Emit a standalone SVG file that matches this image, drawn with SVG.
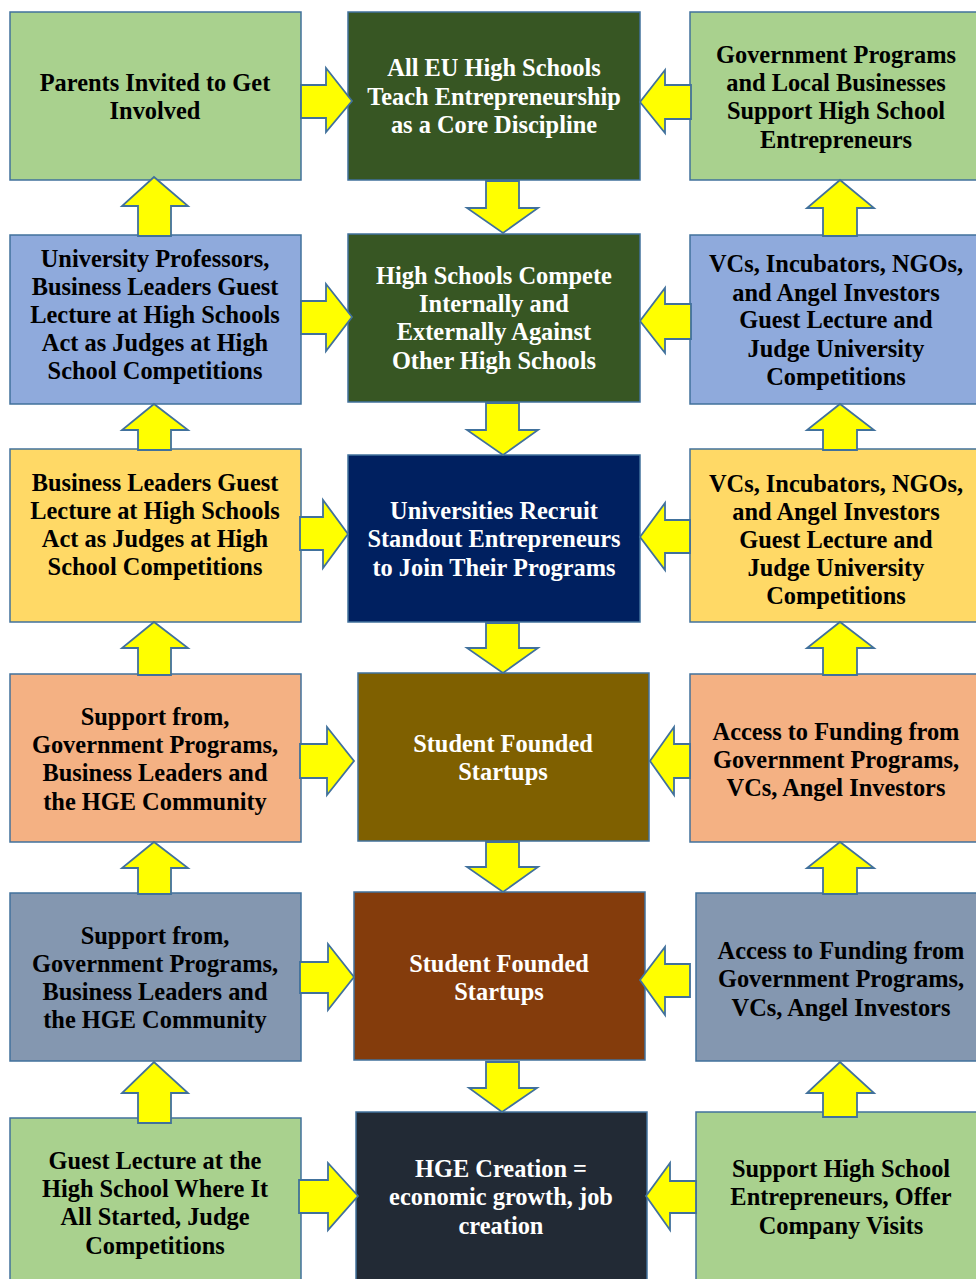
<svg xmlns="http://www.w3.org/2000/svg" width="976" height="1279" viewBox="0 0 976 1279">
<style>
.box{stroke:#41719C;stroke-width:1.5}
.t{font-family:"Liberation Serif","Times New Roman",serif;font-weight:bold;font-size:24.4px;text-anchor:middle}
.dk{fill:#000000}
.lt{fill:#FFFFFF}
.arr{fill:#FFFF00;stroke:#41719C;stroke-width:1.8;stroke-linejoin:miter}
</style>
<rect width="976" height="1279" fill="#FFFFFF"/>
<g id="nodes">
<g id="n-parents"><rect class="box" x="10" y="12" width="291" height="168" fill="#A9D18E"/>
<text class="t dk" x="155"><tspan x="155" y="91">Parents Invited to Get</tspan><tspan x="155" y="119">Involved</tspan></text></g>
<g id="n-eu"><rect class="box" x="348" y="12" width="292" height="168" fill="#375623"/>
<text class="t lt"><tspan x="494" y="76">All EU High Schools</tspan><tspan x="494" y="105">Teach Entrepreneurship</tspan><tspan x="494" y="133">as a Core Discipline</tspan></text></g>
<g id="n-gov1"><rect class="box" x="690" y="12" width="290" height="168" fill="#A9D18E"/>
<text class="t dk"><tspan x="836" y="63">Government Programs</tspan><tspan x="836" y="91">and Local Businesses</tspan><tspan x="836" y="119">Support High School</tspan><tspan x="836" y="148">Entrepreneurs</tspan></text></g>

<g id="n-prof"><rect class="box" x="10" y="235" width="291" height="169" fill="#8FAADC"/>
<text class="t dk"><tspan x="155" y="267">University Professors,</tspan><tspan x="155" y="295">Business Leaders Guest</tspan><tspan x="155" y="323">Lecture at High Schools</tspan><tspan x="155" y="351">Act as Judges at High</tspan><tspan x="155" y="379">School Competitions</tspan></text></g>
<g id="n-compete"><rect class="box" x="348" y="234" width="292" height="168" fill="#375623"/>
<text class="t lt"><tspan x="494" y="284">High Schools Compete</tspan><tspan x="494" y="312">Internally and</tspan><tspan x="494" y="340">Externally Against</tspan><tspan x="494" y="369">Other High Schools</tspan></text></g>
<g id="n-vc1"><rect class="box" x="690" y="235" width="290" height="169" fill="#8FAADC"/>
<text class="t dk"><tspan x="836" y="272">VCs, Incubators, NGOs,</tspan><tspan x="836" y="301">and Angel Investors</tspan><tspan x="836" y="328">Guest Lecture and</tspan><tspan x="836" y="357">Judge University</tspan><tspan x="836" y="385">Competitions</tspan></text></g>

<g id="n-biz"><rect class="box" x="10" y="449" width="291" height="173" fill="#FFD966"/>
<text class="t dk"><tspan x="155" y="491">Business Leaders Guest</tspan><tspan x="155" y="519">Lecture at High Schools</tspan><tspan x="155" y="547">Act as Judges at High</tspan><tspan x="155" y="575">School Competitions</tspan></text></g>
<g id="n-recruit"><rect class="box" x="348" y="455" width="292" height="167" fill="#002060"/>
<text class="t lt"><tspan x="494" y="519">Universities Recruit</tspan><tspan x="494" y="547">Standout Entrepreneurs</tspan><tspan x="494" y="576">to Join Their Programs</tspan></text></g>
<g id="n-vc2"><rect class="box" x="690" y="449" width="290" height="173" fill="#FFD966"/>
<text class="t dk"><tspan x="836" y="492">VCs, Incubators, NGOs,</tspan><tspan x="836" y="520">and Angel Investors</tspan><tspan x="836" y="548">Guest Lecture and</tspan><tspan x="836" y="576">Judge University</tspan><tspan x="836" y="604">Competitions</tspan></text></g>

<g id="n-support1"><rect class="box" x="10" y="674" width="291" height="168" fill="#F4B183"/>
<text class="t dk"><tspan x="155" y="725">Support from,</tspan><tspan x="155" y="753">Government Programs,</tspan><tspan x="155" y="781">Business Leaders and</tspan><tspan x="155" y="810">the HGE Community</tspan></text></g>
<g id="n-startups1"><rect class="box" x="358" y="673" width="291" height="168" fill="#7F6000"/>
<text class="t lt"><tspan x="503" y="752">Student Founded</tspan><tspan x="503" y="780">Startups</tspan></text></g>
<g id="n-fund1"><rect class="box" x="690" y="674" width="290" height="168" fill="#F4B183"/>
<text class="t dk"><tspan x="836" y="740">Access to Funding from</tspan><tspan x="836" y="768">Government Programs,</tspan><tspan x="836" y="796">VCs, Angel Investors</tspan></text></g>

<g id="n-support2"><rect class="box" x="10" y="893" width="291" height="168" fill="#8497B0"/>
<text class="t dk"><tspan x="155" y="944">Support from,</tspan><tspan x="155" y="972">Government Programs,</tspan><tspan x="155" y="1000">Business Leaders and</tspan><tspan x="155" y="1028">the HGE Community</tspan></text></g>
<g id="n-startups2"><rect class="box" x="354" y="892" width="291" height="168" fill="#843C0C"/>
<text class="t lt"><tspan x="499" y="972">Student Founded</tspan><tspan x="499" y="1000">Startups</tspan></text></g>
<g id="n-fund2"><rect class="box" x="696" y="893" width="284" height="168" fill="#8497B0"/>
<text class="t dk"><tspan x="841" y="959">Access to Funding from</tspan><tspan x="841" y="987">Government Programs,</tspan><tspan x="841" y="1016">VCs, Angel Investors</tspan></text></g>

<g id="n-guest"><rect class="box" x="10" y="1118" width="291" height="170" fill="#A9D18E"/>
<text class="t dk"><tspan x="155" y="1169">Guest Lecture at the</tspan><tspan x="155" y="1197">High School Where It</tspan><tspan x="155" y="1225">All Started, Judge</tspan><tspan x="155" y="1254">Competitions</tspan></text></g>
<g id="n-hge"><rect class="box" x="356" y="1112" width="291" height="176" fill="#222A35"/>
<text class="t lt"><tspan x="501" y="1177">HGE Creation =</tspan><tspan x="501" y="1205">economic growth, job</tspan><tspan x="501" y="1234">creation</tspan></text></g>
<g id="n-company"><rect class="box" x="696" y="1112" width="284" height="176" fill="#A9D18E"/>
<text class="t dk"><tspan x="841" y="1177">Support High School</tspan><tspan x="841" y="1205">Entrepreneurs, Offer</tspan><tspan x="841" y="1234">Company Visits</tspan></text></g>
</g>

<g id="connectors">
<path class="arr" d="M301,85 H326 V68 L352,101 L326,132 V118 H301 Z"/>
<path class="arr" d="M301,301 H326 V284 L352,317 L326,351 V334 H301 Z"/>
<path class="arr" d="M300,517 H323 V500 L348,534 L323,568 V550 H300 Z"/>
<path class="arr" d="M300,744 H327 V727 L354,761 L327,795 V778 H300 Z"/>
<path class="arr" d="M300,962 H328 V944 L354,977 L328,1010 V993 H300 Z"/>
<path class="arr" d="M299,1180 H328 V1163 L358,1196 L328,1230 V1213 H299 Z"/>
<path class="arr" d="M691,85 H665 V70 L640,102 L665,133 V119 H691 Z"/>
<path class="arr" d="M691,304 H665 V288 L640,321 L665,353 V339 H691 Z"/>
<path class="arr" d="M690,520 H665 V503 L640,537 L665,570 V553 H690 Z"/>
<path class="arr" d="M690,744 H674 V727 L650,761 L674,795 V778 H690 Z"/>
<path class="arr" d="M690,964 H665 V947 L640,980 L665,1015 V997 H690 Z"/>
<path class="arr" d="M696,1181 H670 V1163 L646,1196 L670,1230 V1213 H696 Z"/>
<path class="arr" d="M486,181 H519 V208 H538 L503,233 L467,208 H486 Z"/>
<path class="arr" d="M486,403 H519 V430 H538 L503,455 L467,430 H486 Z"/>
<path class="arr" d="M486,623 H519 V648 H538 L503,673 L467,648 H486 Z"/>
<path class="arr" d="M486,842 H519 V867 H538 L503,892 L467,867 H486 Z"/>
<path class="arr" d="M486,1062 H519 V1088 H537 L502,1112 L469,1088 H486 Z"/>
<path class="arr" d="M138,236 V206 H122 L154,177 L188,206 H171 V236 Z"/>
<path class="arr" d="M138,450 V430 H122 L154,404 L188,430 H171 V450 Z"/>
<path class="arr" d="M138,675 V648 H122 L154,622 L188,648 H171 V675 Z"/>
<path class="arr" d="M138,894 V868 H122 L154,842 L188,868 H171 V894 Z"/>
<path class="arr" d="M138,1123 V1093 H122 L154,1062 L188,1093 H171 V1123 Z"/>
<path class="arr" d="M823,236 V208 H807 L840,180 L874,208 H857 V236 Z"/>
<path class="arr" d="M823,450 V430 H807 L840,404 L874,430 H857 V450 Z"/>
<path class="arr" d="M823,675 V648 H807 L840,622 L874,648 H857 V675 Z"/>
<path class="arr" d="M823,894 V868 H807 L840,842 L874,868 H857 V894 Z"/>
<path class="arr" d="M823,1117 V1093 H807 L840,1062 L874,1093 H857 V1117 Z"/>
</g>
</svg>
